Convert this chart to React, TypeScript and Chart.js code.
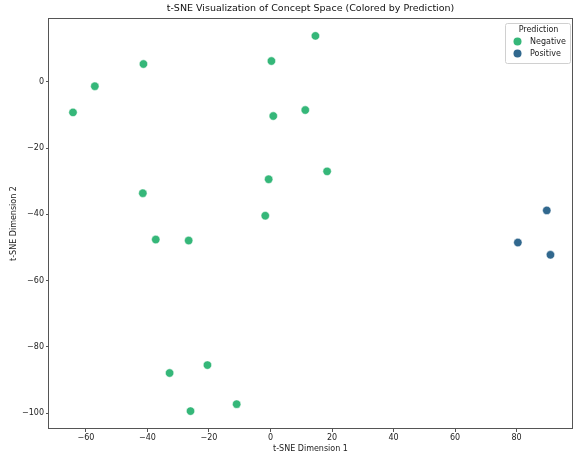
import React, { useEffect, useRef } from "react";
import { Chart, registerables } from "chart.js";

Chart.register(...registerables);

const negX = [-64.2, -57.1, -41.3, -41.5, -37.3, -26.6, 0.3, 0.9, 14.6, 11.3, 18.4, -0.6, -1.7, -20.5, -32.8, -26.0, -11.0];
const negY = [-9.2, -1.3, 5.4, -33.6, -47.6, -47.9, 6.3, -10.3, 13.9, -8.5, -27.0, -29.4, -40.4, -85.5, -87.9, -99.4, -97.3];
const posX = [80.4, 89.8, 91.0];
const posY = [-48.5, -38.8, -52.2];

const seriesNames = ["Negative", "Positive"];
const seriesColors = ["#35b779", "#31688e"];
const titleText = "t-SNE Visualization of Concept Space (Colored by Prediction)";
const xTitle = "t-SNE Dimension 1";
const yTitle = "t-SNE Dimension 2";
const legendTitle = "Prediction";

const FONT = "DejaVu Sans";

const decorPlugin = {
  id: "decor",
  afterDraw(chart: any) {
    const { ctx, chartArea } = chart;
    const { left, right, top, bottom } = chartArea;
    ctx.save();
    // frame
    ctx.strokeStyle = "#555";
    ctx.lineWidth = 1;
    ctx.strokeRect(Math.round(left) - 0.5, Math.round(top) + 0.5, Math.round(right - left) + 1, Math.round(bottom - top) - 1);
    // title
    ctx.fillStyle = "#111";
    ctx.font = `9.5px "${FONT}"`;
    ctx.textAlign = "center";
    ctx.textBaseline = "middle";
    ctx.fillText(titleText, (left + right) / 2, 9);
    // legend
    const bx = 505, by = 23, bw = 65, bh = 40;
    ctx.fillStyle = "rgba(255,255,255,0.8)";
    ctx.strokeStyle = "#d0d0d0";
    ctx.lineWidth = 1;
    ctx.beginPath();
    (ctx as any).roundRect(bx + 0.5, by + 0.5, bw, bh, 2);
    ctx.fill();
    ctx.stroke();
    ctx.fillStyle = "#222";
    ctx.font = `8px "${FONT}"`;
    ctx.textAlign = "center";
    ctx.fillText(legendTitle, bx + bw / 2 + 1, by + 6.5);
    chart.data.datasets.forEach((ds: any, i: number) => {
      const yy = by + 18.5 + i * 12;
      ctx.beginPath();
      ctx.fillStyle = ds.backgroundColor;
      ctx.arc(bx + 12.5, yy, 4, 0, Math.PI * 2);
      ctx.fill();
      ctx.fillStyle = "#222";
      ctx.textAlign = "left";
      ctx.fillText(ds.label, bx + 25, yy);
    });
    ctx.restore();
  },
};

const onlyTwenties = (s: any) => {
  s.ticks = s.ticks.filter((t: any) => Math.abs(t.value % 20) < 1e-6);
};
const fmt = (v: any) => (Number(v) < 0 ? "\u2212" + Math.abs(Number(v)) : String(v));

export default function App() {
  const ref = useRef<HTMLCanvasElement>(null);
  useEffect(() => {
    if (!ref.current) return;
    const mk = (xs: number[], ys: number[]) => xs.map((x, i) => ({ x, y: ys[i] }));
    const chart = new Chart(ref.current, {
      type: "scatter",
      data: {
        datasets: [
          {
            label: seriesNames[0],
            data: mk(negX, negY),
            backgroundColor: seriesColors[0],
            borderColor: "#ffffff",
            borderWidth: 0.5,
            pointRadius: 4.2,
          },
          {
            label: seriesNames[1],
            data: mk(posX, posY),
            backgroundColor: seriesColors[1],
            borderColor: "#ffffff",
            borderWidth: 0.5,
            pointRadius: 4.2,
          },
        ],
      },
      options: {
        responsive: false,
        animation: false,
        layout: { autoPadding: false, padding: { top: 18, right: 1, left: 0, bottom: 0 } },
        plugins: { legend: { display: false }, tooltip: { enabled: false }, title: { display: false } },
        scales: {
          x: {
            type: "linear",
            min: -72,
            max: 98,
            grid: { display: true, drawOnChartArea: false, drawTicks: true, tickLength: 3, color: "#555" },
            border: { display: false },
            ticks: {
              stepSize: 20,
              padding: 1,
              color: "#222",
              font: { family: FONT, size: 8 },
              maxRotation: 0,
              callback: fmt,
            },
            title: { display: true, text: xTitle, color: "#222", font: { family: FONT, size: 8 }, padding: { top: 0, bottom: 3 } },
            afterBuildTicks: onlyTwenties,
            afterFit: (s: any) => { s.height = 28; s.paddingLeft = 0; s.paddingRight = 0; },
          },
          y: {
            type: "linear",
            min: -104.8,
            max: 19.3,
            grid: { display: true, drawOnChartArea: false, drawTicks: true, tickLength: 3, color: "#555" },
            border: { display: false },
            ticks: {
              stepSize: 20,
              padding: 2,
              color: "#222",
              font: { family: FONT, size: 8 },
              callback: fmt,
            },
            title: { display: true, text: yTitle, color: "#222", font: { family: FONT, size: 8 }, padding: { top: 9, bottom: 0 } },
            afterBuildTicks: onlyTwenties,
            afterFit: (s: any) => { s.width = 49; s.paddingTop = 0; s.paddingBottom = 0; },
          },
        },
      },
      plugins: [decorPlugin],
    } as any);
    return () => chart.destroy();
  }, []);
  return (
    <div style={{ position: "fixed", left: 0, top: 0, width: 573, height: 457, background: "#fff" }}>
      <canvas ref={ref} width={573} height={457} style={{ display: "block" }} />
    </div>
  );
}
